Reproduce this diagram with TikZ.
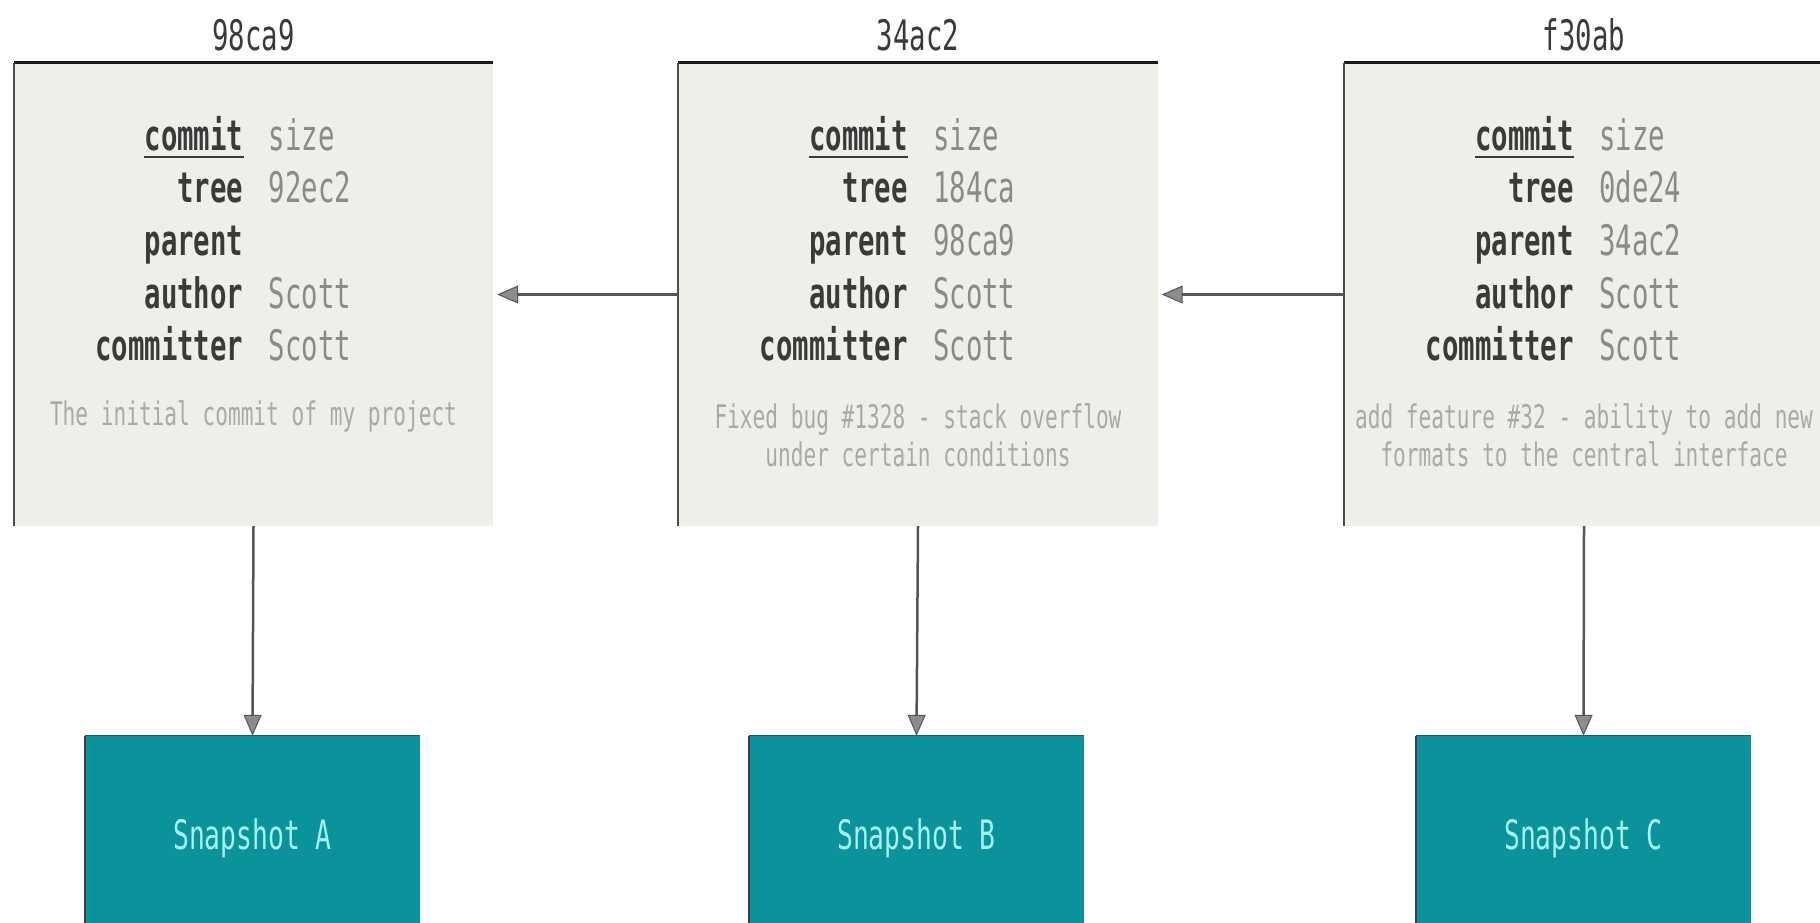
\documentclass[tikz,border=0pt]{standalone}
\usepackage{fontspec}
\usetikzlibrary{arrows.meta}
\newfontfamily\gmono[FakeStretch=0.65]{DejaVu Sans Mono}
\definecolor{boxfill}{HTML}{EFEEE9}
\definecolor{lbl}{HTML}{3A3A3A}
\definecolor{val}{HTML}{8A8A88}
\definecolor{msg}{HTML}{A9A9A5}
\definecolor{snapfill}{HTML}{0A939B}
\definecolor{snaptext}{HTML}{A6F2F2}
\definecolor{arrowln}{HTML}{555555}
\definecolor{tipfill}{HTML}{8C8C8C}
\tikzset{
  cbox/.style={rectangle, fill=boxfill, minimum width=479pt, minimum height=463pt, inner sep=0pt},
  topline/.style={draw=black!90, line width=3pt},
  leftline/.style={draw=black!70, line width=2pt},
  titletxt/.style={inner sep=0pt, text=lbl, font=\gmono\fontsize{42}{50}\selectfont},
  lbltxt/.style={inner sep=0pt, anchor=mid east, text=lbl, font=\gmono\bfseries\fontsize{42}{50}\selectfont},
  valtxt/.style={inner sep=0pt, anchor=mid west, text=val, font=\gmono\fontsize{42}{50}\selectfont},
  msgtxt/.style={inner sep=0pt, align=center, text=msg, font=\gmono\fontsize{32.5}{38}\selectfont},
  snapbox/.style={rectangle, fill=snapfill, minimum width=335pt, minimum height=187pt, inner sep=0pt},
  snaptxt/.style={inner sep=0pt, text=snaptext, font=\gmono\fontsize{40.5}{48}\selectfont},
  conn/.style={draw=arrowln, line width=2.5pt, -{Triangle[length=21pt,width=18pt,fill=tipfill,line width=1pt]}},
}
\newcommand\commitblk[7]{%
  \node[cbox] (#1) at (#2,294.5) {};
  \draw[topline] (#1.north west) -- (#1.north east);
  \draw[leftline] (#1.north west) -- (#1.south west);
  \node[titletxt] (#1title) at (#2,35) {#3};
  \node[lbltxt] (#1l1) at (#2-10,148) {commit};
  \draw[lbl, line width=2.5pt] ([yshift=-7pt]#1l1.base west) -- ([yshift=-7pt]#1l1.base east);
  \node[lbltxt] (#1l2) at (#2-10,200.5) {tree};
  \node[lbltxt] (#1l3) at (#2-10,253) {parent};
  \node[lbltxt] (#1l4) at (#2-10,306) {author};
  \node[lbltxt] (#1l5) at (#2-10,358) {committer};
  \node[valtxt] (#1v1) at (#2+15,148) {size};
  \node[valtxt] (#1v2) at (#2+15,200.5) {#4};
  \node[valtxt] (#1v3) at (#2+15,253) {#5};
  \node[valtxt] (#1v4) at (#2+15,306) {Scott};
  \node[valtxt] (#1v5) at (#2+15,358) {Scott};
  \node[msgtxt] (#1msg) at (#2,#7) {#6};
}
\begin{document}
\begin{tikzpicture}[x=1pt,y=-1pt]
\useasboundingbox (0,0) rectangle (1820,923);
\fill[white] (0,0) rectangle (1820,923);
\commitblk{ca}{253.5}{98ca9}{92ec2}{}{The initial commit of my project}{416}
\commitblk{cb}{918}{34ac2}{184ca}{98ca9}{Fixed bug \#1328 - stack overflow\\under certain conditions}{435}
\commitblk{cc}{1584}{f30ab}{0de24}{34ac2}{add feature \#32 - ability to add new\\formats to the central interface}{435}
% snapshots
\node[snapbox] (sa) at (252.5,829.5) {};
\node[snapbox] (sb) at (916.5,829.5) {};
\node[snapbox] (sc) at (1583.5,829.5) {};
\foreach \s in {sa,sb,sc}{
  \draw[black!75, line width=1.5pt] (\s.north west) -- (\s.south west);
  \draw[snapfill!70!black, line width=1pt] (\s.north west) -- (\s.north east);
}
\node[snaptxt] (sat) at (252.5,838) {Snapshot A};
\node[snaptxt] (sbt) at (916.5,838) {Snapshot B};
\node[snaptxt] (sct) at (1583.5,838) {Snapshot C};
% connectors
\draw[conn, shorten >=4pt] (cb.west) -- (ca.east);
\draw[conn, shorten >=4pt] (cc.west) -- (cb.east);
\draw[conn] (ca.south) -- (sa.north);
\draw[conn] (cb.south) -- (sb.north);
\draw[conn] (cc.south) -- (sc.north);
\end{tikzpicture}
\end{document}
